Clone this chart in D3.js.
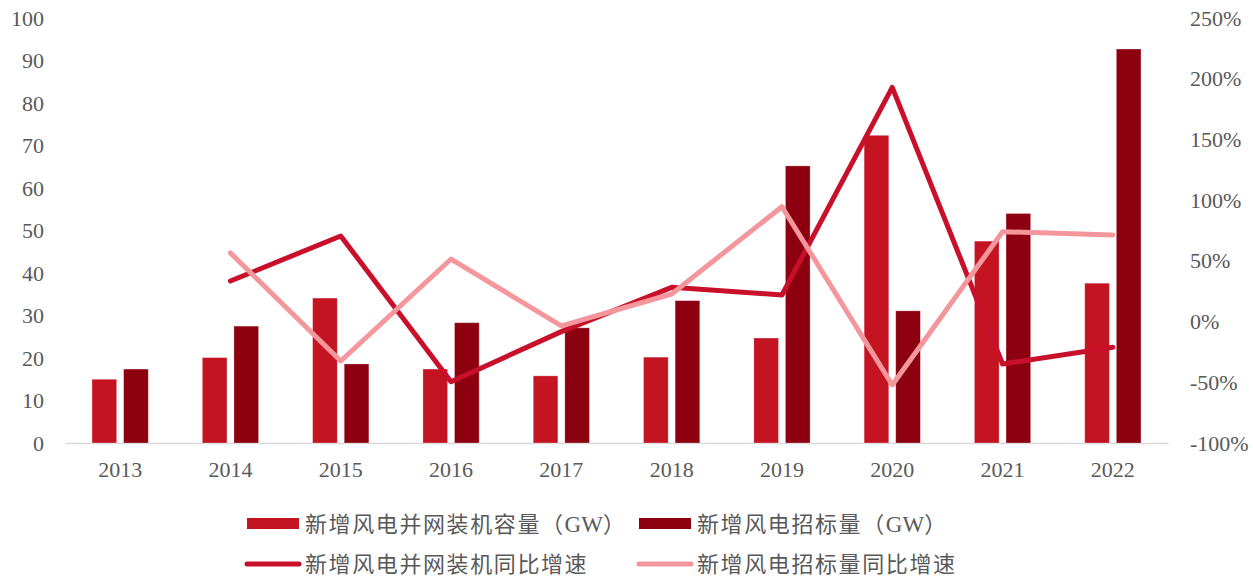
<!DOCTYPE html>
<html>
<head>
<meta charset="utf-8">
<script src="https://cdn.jsdelivr.net/npm/d3@7"></script>
<style>
  body { margin: 0; background: #fff; }
  .axis text { font-family: "Liberation Serif", "Times New Roman", serif; font-size: 22px; fill: #595959; }
  .legend text { font-family: "Noto Sans CJK SC", sans-serif; font-size: 22px; fill: #595959; letter-spacing: 1.6px; }
  .legend tspan.latin { font-family: "Liberation Serif", serif; font-size: 23px; letter-spacing: 0; }
</style>
</head>
<body>
<div id="container"></div>
<script>
/* DATA */
const years = ["2013", "2014", "2015", "2016", "2017", "2018", "2019", "2020", "2021", "2022"]
const gridAdded = [15.0, 20.1, 34.1, 17.4, 15.8, 20.2, 24.7, 72.4, 47.5, 37.6]   // 新增风电并网装机容量（GW）
const bidAdded = [17.4, 27.5, 18.6, 28.3, 27.1, 33.5, 65.2, 31.1, 54.0, 92.7]    // 新增风电招标量（GW）
const gridGrowth = [null, 33.4, 70.5, -49.5, -8.3, 28.2, 21.9, 192.9, -34.9, -21.2] // %
const bidGrowth = [null, 56.5, -32.5, 51.5, -3.6, 22.7, 94.6, -52.2, 74.0, 71.3]    // %
const leftTicks = [0, 10, 20, 30, 40, 50, 60, 70, 80, 90, 100]
const rightTicks = [-100, -50, 0, 50, 100, 150, 200, 250]
const legendNames = ["新增风电并网装机容量（GW）", "新增风电招标量（GW）", "新增风电并网装机同比增速", "新增风电招标量同比增速"]

/* CONSTANTS */
const width = 1253, height = 579
const plot = { left: 65, right: 1168, top: 18, bottom: 443 }
const colors = { grid: "#C41422", bid: "#8C0010", gridLine: "#C8102A", bidLine: "#F4979C" }
const serif = '"Liberation Serif", "Times New Roman", serif'

const svg = d3.select("#container").append("svg")
  .attr("width", width)
  .attr("height", height)

/* SCALES */
const xScale = d3.scaleBand().domain(years).range([plot.left, plot.right])
const yLeft = d3.scaleLinear().domain([0, 100]).range([plot.bottom, plot.top])
const yRight = d3.scaleLinear().domain([-100, 250]).range([plot.bottom, plot.top])
const center = d => xScale(d) + xScale.bandwidth() / 2

// two bars per year, centered in the band
const groupW = xScale.bandwidth() * 0.51
const xSub = d3.scaleBand().domain([0, 1]).range([-groupW / 2, groupW / 2]).paddingInner(0.22)

/* AXES */
svg.append("g")
  .attr("class", "axis")
  .attr("transform", `translate(${plot.left},0)`)
  .call(d3.axisLeft(yLeft).tickValues(leftTicks).tickSize(0).tickPadding(21))
  .attr("font-family", serif).attr("font-size", 22)
  .call(g => g.select(".domain").remove())

svg.append("g")
  .attr("class", "axis")
  .attr("transform", `translate(${plot.right},0)`)
  .call(d3.axisRight(yRight).tickValues(rightTicks).tickSize(0).tickPadding(22).tickFormat(d => d + "%"))
  .attr("font-family", serif).attr("font-size", 22)
  .call(g => g.select(".domain").remove())

svg.append("g")
  .attr("class", "axis")
  .attr("transform", `translate(0,${plot.bottom})`)
  .call(d3.axisBottom(xScale).tickSize(0).tickPadding(18))
  .attr("font-family", serif).attr("font-size", 22)
  .call(g => g.select(".domain").attr("stroke", "#d9d9d9").attr("stroke-width", 1.5))

/* BARS */
const barData = years.map((y, i) => [
  { year: y, k: 0, v: gridAdded[i] },
  { year: y, k: 1, v: bidAdded[i] }
]).flat()

svg.append("g")
  .selectAll("rect")
  .data(barData)
  .join("rect")
  .attr("x", d => center(d.year) + xSub(d.k))
  .attr("width", xSub.bandwidth())
  .attr("y", d => yLeft(d.v))
  .attr("height", d => yLeft(0) - yLeft(d.v))
  .attr("fill", d => d.k === 0 ? colors.grid : colors.bid)
  .attr("stroke", "#fff")
  .attr("stroke-opacity", 0.35)
  .attr("stroke-width", 0.8)

/* LINES */
const line = d3.line()
  .defined(d => d.v !== null)
  .x(d => center(d.year))
  .y(d => yRight(d.v))

const series = [
  { vals: gridGrowth, color: colors.gridLine },
  { vals: bidGrowth, color: colors.bidLine }
]
svg.append("g")
  .selectAll("path")
  .data(series)
  .join("path")
  .attr("d", s => line(years.map((y, i) => ({ year: y, v: s.vals[i] }))))
  .attr("fill", "none")
  .attr("stroke", s => s.color)
  .attr("stroke-width", 5)
  .attr("stroke-linejoin", "round")
  .attr("stroke-linecap", "round")

/* LEGEND */
const legendItems = [
  { name: legendNames[0], type: "rect", color: colors.grid, x: 247, y: 524 },
  { name: legendNames[1], type: "rect", color: colors.bid, x: 639, y: 524 },
  { name: legendNames[2], type: "line", color: colors.gridLine, x: 247, y: 564 },
  { name: legendNames[3], type: "line", color: colors.bidLine, x: 639, y: 564 }
]
const legend = svg.append("g").attr("class", "legend")
  .selectAll("g")
  .data(legendItems)
  .join("g")
  .attr("transform", d => `translate(${d.x},${d.y})`)

legend.filter(d => d.type === "rect").append("rect")
  .attr("x", 0).attr("y", -6).attr("width", 52).attr("height", 11)
  .attr("fill", d => d.color)

legend.filter(d => d.type === "line").append("line")
  .attr("x1", 0).attr("x2", 52).attr("y1", 0).attr("y2", 0)
  .attr("stroke", d => d.color)
  .attr("stroke-width", 5)
  .attr("stroke-linecap", "round")

// Latin letters (GW) set in serif, like the original
legend.append("text")
  .attr("x", 58)
  .attr("dy", "0.35em")
  .selectAll("tspan")
  .data(d => d.name.split(/(GW)/).filter(s => s.length))
  .join("tspan")
  .attr("class", s => s === "GW" ? "latin" : null)
  .text(s => s)
</script>
</body>
</html>
